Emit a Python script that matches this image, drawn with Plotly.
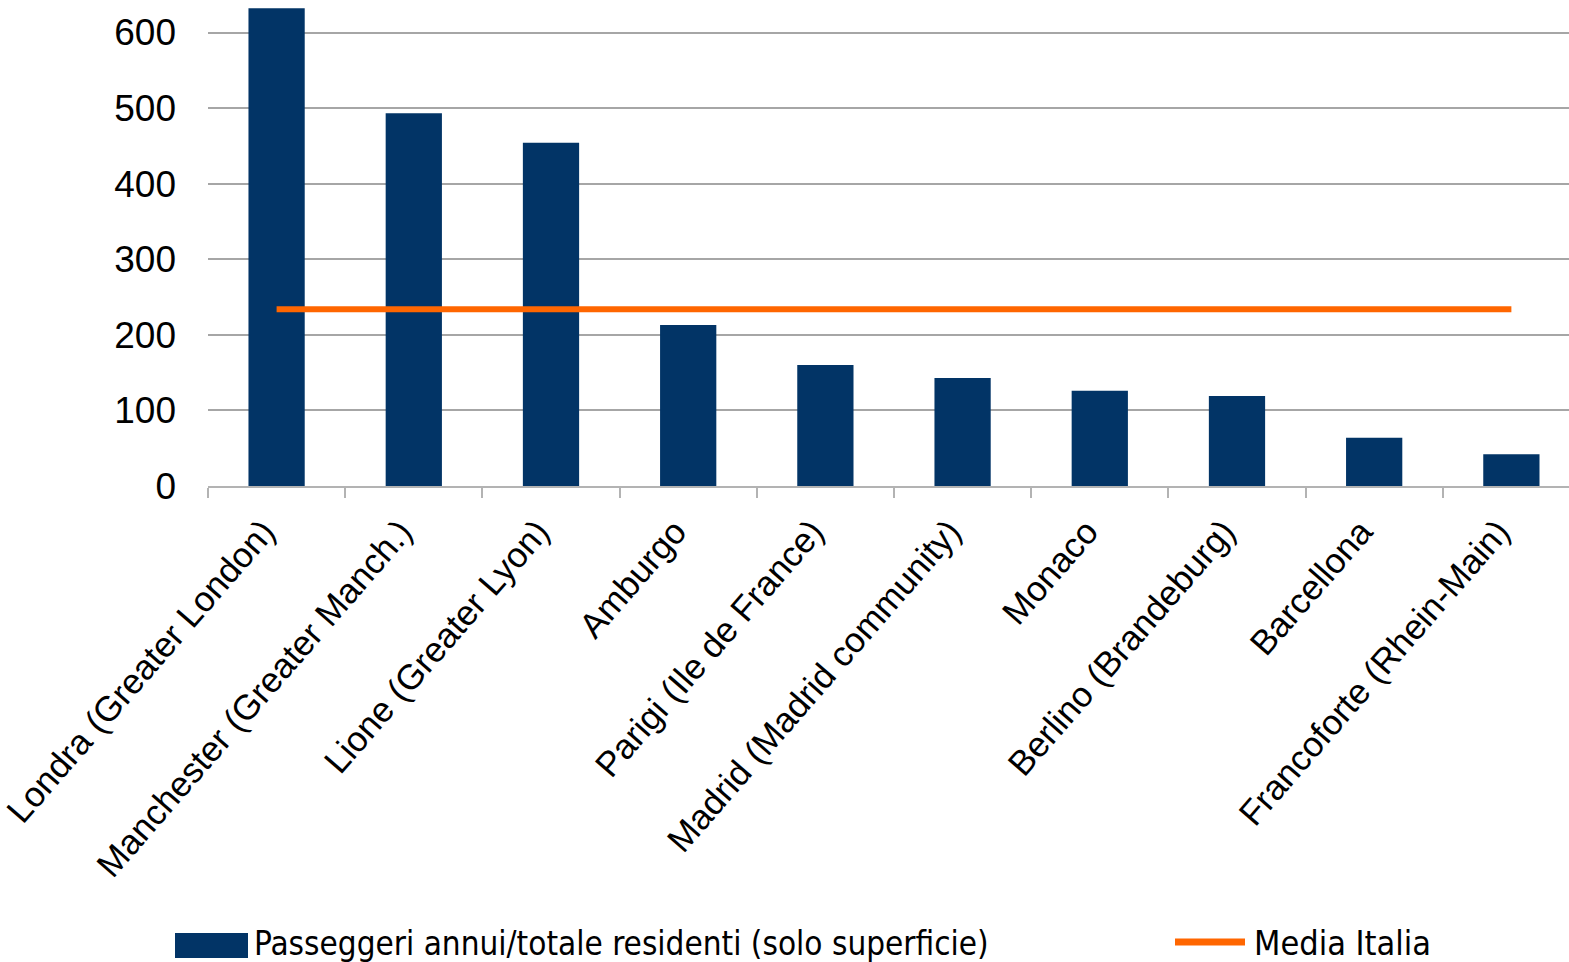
import plotly.graph_objects as go

categories = [
    "Londra (Greater London)",
    "Manchester (Greater Manch.)",
    "Lione (Greater Lyon)",
    "Amburgo",
    "Parigi (Ile de France)",
    "Madrid (Madrid community)",
    "Monaco",
    "Berlino (Brandeburg)",
    "Barcellona",
    "Francoforte (Rhein-Main)",
]
passeggeri = [632, 493, 454, 213, 160, 143, 126, 119, 64, 42]
media_italia = [234] * len(categories)

series_bar = "Passeggeri annui/totale residenti (solo superficie)"
series_line = "Media Italia"

W, H = 1569, 962
ML, MR, MT, MB = 208, 0, 0, 476
PW, PH = W - ML - MR, H - MT - MB

def px(x):
    return (x - ML) / PW

def py(y):
    return (H - MB - y) / PH

fig = go.Figure()
fig.add_trace(go.Bar(
    x=categories, y=passeggeri, name=series_bar,
    marker=dict(color="#023466", line=dict(width=0)),
    width=0.41, showlegend=False,
))
fig.add_trace(go.Scatter(
    x=categories, y=media_italia, name=series_line, mode="lines",
    line=dict(color="#ff6600", width=6), showlegend=False,
))

# manual legend
fig.add_shape(type="rect", xref="paper", yref="paper",
              x0=px(175), x1=px(248), y0=py(958), y1=py(933),
              fillcolor="#023466", line=dict(width=0))
fig.add_annotation(xref="paper", yref="paper", x=px(252), y=py(943),
                   xanchor="left", yanchor="middle", showarrow=False,
                   text=series_bar,
                   font=dict(family="DejaVu Sans Condensed", size=33, color="#000000"))
fig.add_shape(type="line", xref="paper", yref="paper",
              x0=px(1175), x1=px(1245), y0=py(942), y1=py(942),
              line=dict(color="#ff6600", width=7))
fig.add_annotation(xref="paper", yref="paper", x=px(1252), y=py(943),
                   xanchor="left", yanchor="middle", showarrow=False,
                   text=series_line,
                   font=dict(family="DejaVu Sans Condensed", size=34, color="#000000"))

fig.update_layout(
    width=W, height=H,
    margin=dict(l=ML, r=MR, t=MT, b=MB, pad=0),
    paper_bgcolor="white", plot_bgcolor="white",
    font=dict(family="Liberation Sans", color="#000000"),
    bargap=0.59,
)
fig.update_xaxes(
    type="category", range=[-0.5, 9.42],
    tickangle=-49, tickfont=dict(size=35, family="Liberation Sans"),
    showline=True, linecolor="#b3b3b3", linewidth=2,
    ticks="outside", tickson="boundaries", ticklen=10, tickcolor="#b3b3b3", tickwidth=2,
    showgrid=False, ticklabelstandoff=9, ticklabelshift=-13,
)
fig.update_yaxes(
    range=[0, 643], tickvals=[0, 100, 200, 300, 400, 500, 600],
    tickfont=dict(size=37, family="Liberation Sans"),
    showgrid=True, gridcolor="#a6a6a6", gridwidth=1.5,
    zeroline=False, showline=False, ticks="", ticklabelstandoff=31,
)

fig.write_html("out.html", config={"displayModeBar": False},
               post_script="document.body.style.margin='0px';document.body.style.overflow='hidden';")
